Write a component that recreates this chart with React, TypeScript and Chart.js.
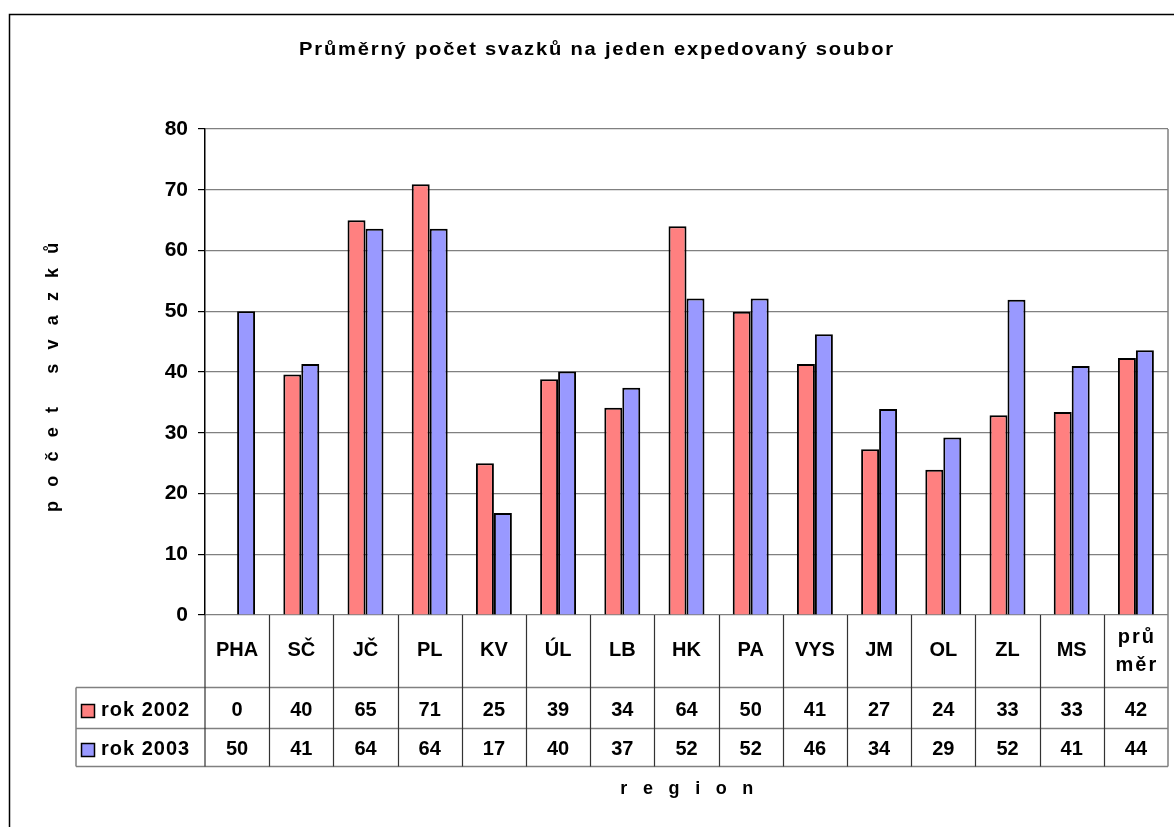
import React, { useEffect, useRef } from "react";
import { Chart, registerables } from "chart.js";

Chart.register(...registerables);

const categories: string[][] = [
  ["PHA"], ["SČ"], ["JČ"], ["PL"], ["KV"], ["ÚL"], ["LB"], ["HK"], ["PA"], ["VYS"], ["JM"], ["OL"], ["ZL"], ["MS"], ["prů", "měr"],
];
const values2002 = [0, 39.6, 65.0, 70.9, 25.0, 38.8, 34.1, 64.0, 49.9, 41.3, 27.3, 23.9, 32.9, 33.4, 42.3];
const values2003 = [50.0, 41.3, 63.6, 63.6, 16.8, 40.1, 37.4, 52.1, 52.1, 46.2, 33.9, 29.2, 51.9, 41.0, 43.6];
const seriesNames = ["rok 2002", "rok 2003"];
const seriesColors = ["#FF8080", "#9999FF"];
const title = "Průměrný počet svazků na jeden expedovaný soubor";
const yTitle = "p o č e t   s v a z k ů";
const xTitle = "r e g i o n";

const FONT = "'Liberation Sans', Arial, sans-serif";

const tablePlugin = {
  id: "dataTable",
  afterDraw(chart: any) {
    const ctx: CanvasRenderingContext2D = chart.ctx;
    const { left, right, top, bottom } = chart.chartArea;
    const n = categories.length;
    const cw = (right - left) / n;
    const rowLabelTop = bottom;
    const row1 = 687.5;
    const row2 = 728.5;
    const row3 = 766.5;
    const tblLeft = 76;
    ctx.save();

    // outer frame
    ctx.strokeStyle = "#000";
    ctx.lineWidth = 1.5;
    ctx.strokeRect(9.5, 14.5, 1300, 1000);

    // title (slightly stretched horizontally like the original)
    ctx.save();
    ctx.fillStyle = "#000";
    ctx.font = `bold 18px ${FONT}`;
    ctx.textAlign = "center";
    ctx.textBaseline = "middle";
    ctx.translate(597, 50);
    ctx.scale(1.12, 1);
    (ctx as any).letterSpacing = "1.6px";
    ctx.fillText(title, 0, 0);
    ctx.restore();

    ctx.fillStyle = "#000";
    ctx.textAlign = "center";
    ctx.textBaseline = "middle";

    // y title
    ctx.save();
    ctx.translate(53, (top + bottom) / 2 + 3);
    ctx.rotate(-Math.PI / 2);
    ctx.font = `bold 18px ${FONT}`;
    (ctx as any).letterSpacing = "4.6px";
    ctx.fillText(yTitle, 0, 0);
    ctx.restore();

    // x title
    ctx.font = `bold 18px ${FONT}`;
    (ctx as any).letterSpacing = "5.3px";
    ctx.fillText(xTitle, (left + right) / 2 + 3, 789);
    (ctx as any).letterSpacing = "0px";

    // table lines
    ctx.lineWidth = 1.5;
    ctx.strokeStyle = "#808080";
    ctx.beginPath();
    ctx.moveTo(tblLeft, row1); ctx.lineTo(right, row1);
    ctx.moveTo(tblLeft, row2); ctx.lineTo(right, row2);
    ctx.moveTo(tblLeft, row3); ctx.lineTo(right, row3);
    ctx.moveTo(tblLeft, row1); ctx.lineTo(tblLeft, row3);
    ctx.moveTo(right, top); ctx.lineTo(right, row3);
    ctx.stroke();

    ctx.strokeStyle = "#333";
    ctx.lineWidth = 1.2;
    ctx.beginPath();
    for (let i = 1; i < n; i++) {
      const xx = Math.round(left + i * cw) + 0.5;
      ctx.moveTo(xx, rowLabelTop);
      ctx.lineTo(xx, row3);
    }
    ctx.moveTo(left, rowLabelTop);
    ctx.lineTo(left, row3);
    ctx.stroke();

    // category labels and values
    ctx.fillStyle = "#000";
    ctx.font = `bold 20px ${FONT}`;
    ctx.textAlign = "center";
    ctx.textBaseline = "middle";
    const xs = chart.scales.x;
    categories.forEach((lines, i) => {
      const cx = xs.getPixelForValue(i);
      if (lines.length === 1) {
        ctx.fillText(lines[0], cx, 650);
      } else {
        (ctx as any).letterSpacing = "2px";
        ctx.fillText(lines[0], cx + 1, 637);
        ctx.fillText(lines[1], cx + 1, 665);
        (ctx as any).letterSpacing = "0px";
      }
      ctx.fillText(String(Math.round(values2002[i])), cx, 710);
      ctx.fillText(String(Math.round(values2003[i])), cx, 749);
    });

    // legend keys
    const rowCenters = [711, 750];
    rowCenters.forEach((cy, k) => {
      ctx.fillStyle = seriesColors[k];
      ctx.fillRect(81.5, cy - 6.5, 13, 13);
      ctx.strokeStyle = "#000";
      ctx.lineWidth = 1.5;
      ctx.strokeRect(81.5, cy - 6.5, 13, 13);
      ctx.fillStyle = "#000";
      ctx.textAlign = "left";
      ctx.font = `bold 20px ${FONT}`;
      (ctx as any).letterSpacing = "1px";
      ctx.fillText(seriesNames[k], 101, cy - 1);
      (ctx as any).letterSpacing = "0px";
    });
    ctx.restore();
  },
};

export default function App() {
  const ref = useRef<HTMLCanvasElement | null>(null);
  useEffect(() => {
    if (!ref.current) return;
    const chart = new Chart(ref.current, {
      type: "bar",
      data: {
        labels: categories.map((c) => c.join(" ")),
        datasets: [
          {
            label: seriesNames[0],
            data: values2002,
            backgroundColor: seriesColors[0],
            borderColor: "#000",
            borderWidth: 2,
            categoryPercentage: 0.56,
            barPercentage: 1,
          },
          {
            label: seriesNames[1],
            data: values2003,
            backgroundColor: seriesColors[1],
            borderColor: "#000",
            borderWidth: 2,
            categoryPercentage: 0.56,
            barPercentage: 1,
          },
        ],
      },
      options: {
        animation: false,
        responsive: false,
        devicePixelRatio: 1,
        layout: { padding: { left: 0, top: 129, right: 6, bottom: 212 } },
        plugins: { legend: { display: false }, title: { display: false }, tooltip: { enabled: false } },
        scales: {
          x: { display: false },
          y: {
            min: 0,
            max: 80,
            afterFit: (scale: any) => {
              scale.width = 205;
            },
            ticks: {
              stepSize: 10,
              color: "#000",
              padding: 10,
              font: { family: FONT, size: 21, weight: "bold" },
            },
            grid: { color: "#808080", lineWidth: 1.2, tickLength: 7, tickColor: "#000" },
            border: { display: true, color: "#000", width: 1.5 },
          },
        },
      },
      plugins: [tablePlugin],
    });
    return () => chart.destroy();
  }, []);
  return (
    <div style={{ position: "fixed", left: 0, top: 0, width: 1174, height: 827, background: "#fff" }}>
      <canvas ref={ref} width={1174} height={827} style={{ width: 1174, height: 827, display: "block" }} />
    </div>
  );
}
